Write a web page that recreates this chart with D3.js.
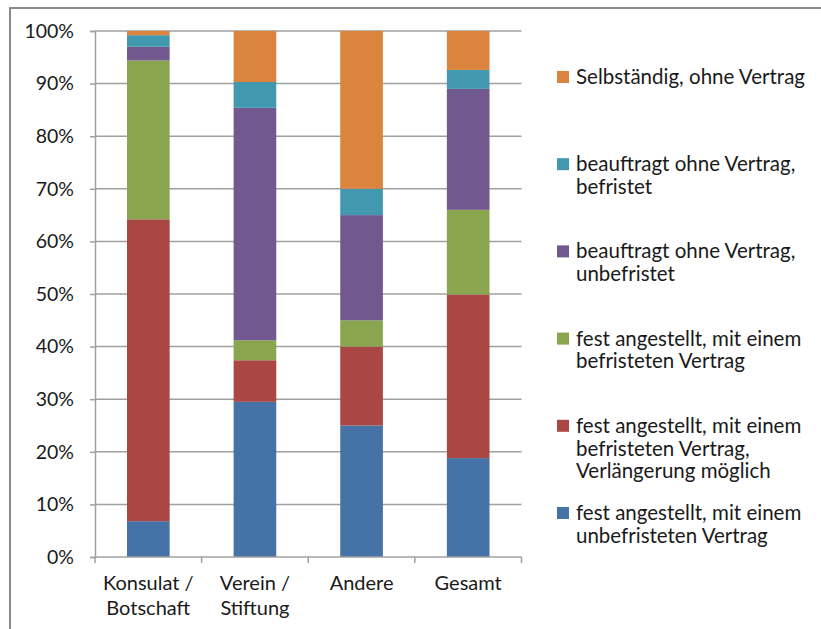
<!DOCTYPE html>
<html><head><meta charset="utf-8">
<script src="https://cdn.jsdelivr.net/npm/d3@7"></script>
<style>
html,body{margin:0;padding:0;background:#fff;}
svg text{font-family:Lato,"Open Sans",sans-serif;fill:#1a1a1a;}
</style></head>
<body>
<svg id="chart" width="821" height="629"></svg>
<script>
const categories = [["Konsulat /","Botschaft"],["Verein /","Stiftung"],["Andere"],["Gesamt"]];
const seriesNames = [
  ["fest angestellt, mit einem","unbefristeten Vertrag"],
  ["fest angestellt, mit einem","befristeten Vertrag,","Verlängerung möglich"],
  ["fest angestellt, mit einem","befristeten Vertrag"],
  ["beauftragt ohne Vertrag,","unbefristet"],
  ["beauftragt ohne Vertrag,","befristet"],
  ["Selbständig, ohne Vertrag"]
];
const unbefristet   = [6.8, 29.5, 25, 18.8];
const befristetVerl = [57.4, 7.9, 15, 31.1];
const befristet     = [30.2, 3.8, 5, 16.1];
const beaufUnbef    = [2.6, 44.2, 20, 23.0];
const beaufBef      = [2.2, 4.9, 5, 3.6];
const selbst        = [0.8, 9.7, 30, 7.4];
const yTicks = [0,10,20,30,40,50,60,70,80,90,100];
const colors = ["#4572A7","#AA4643","#89A54E","#71588F","#4198AF","#DB843D"];

const seriesValues = [unbefristet, befristetVerl, befristet, beaufUnbef, beaufBef, selbst];
const keys = seriesValues.map((_,i)=>"s"+i);
const rows = categories.map((c,ci)=>{
  const r = {cat: c.join(" ")};
  seriesValues.forEach((s,si)=>r["s"+si]=s[ci]);
  return r;
});

const svg = d3.select("#chart");
const L=95, R=521.5, T=31, B=557;

// frame
svg.append("path").attr("d","M10,629 L10,8 L821,8").attr("fill","none")
  .attr("stroke","#8a8a8a").attr("stroke-width",2);

const x = d3.scaleBand().domain(rows.map(d=>d.cat)).range([L,R]).paddingInner(0.6).paddingOuter(0.3);
const y = d3.scaleLinear().domain([0,100]).range([B,T]);

// gridlines
svg.append("g").selectAll("line").data(yTicks.filter(t=>t>0)).join("line")
  .attr("x1",L).attr("x2",R).attr("y1",d=>y(d)).attr("y2",d=>y(d))
  .attr("stroke","#a0a0a0").attr("stroke-width",1.5);

// y axis
const yAxis = d3.axisLeft(y).tickValues(yTicks).tickFormat(d=>d+"%").tickSize(5).tickPadding(16);
const yg = svg.append("g").attr("transform",`translate(${L},0)`).call(yAxis);
yg.select(".domain").attr("stroke","#a0a0a0").attr("stroke-width",1.5);
yg.selectAll(".tick line").attr("stroke","#a0a0a0").attr("stroke-width",1.5);
yg.selectAll(".tick text").attr("font-size",19.5).attr("font-family","Lato").attr("fill","#1a1a1a");

// bars
const stacked = d3.stack().keys(keys)(rows);
svg.append("g").selectAll("g").data(stacked).join("g")
  .attr("fill",(d,i)=>colors[i])
  .selectAll("rect").data(d=>d).join("rect")
  .attr("x",d=>x(d.data.cat)).attr("width",x.bandwidth())
  .attr("y",d=>y(d[1])).attr("height",d=>y(d[0])-y(d[1]));

// x axis
const step = x.step();
const xg = svg.append("g");
xg.append("line").attr("x1",L).attr("x2",R).attr("y1",B).attr("y2",B)
  .attr("stroke","#a0a0a0").attr("stroke-width",1.5);
const bounds = d3.range(categories.length+1).map(i=>L+i*step);
xg.selectAll("line.tk").data(bounds).join("line").attr("class","tk")
  .attr("x1",d=>d).attr("x2",d=>d).attr("y1",B).attr("y2",B+6)
  .attr("stroke","#a0a0a0").attr("stroke-width",1.5);
rows.forEach((r,i)=>{
  const t = xg.append("text").attr("text-anchor","middle")
    .attr("x",x(r.cat)+x.bandwidth()/2).attr("font-size",20);
  categories[i].forEach((ln,li)=>{
    t.append("tspan").attr("x",x(r.cat)+x.bandwidth()/2).attr("y",590+li*25).text(ln);
  });
});

// legend (top to bottom: reverse order)
const legendOrder = d3.range(seriesNames.length).reverse();
const lg = svg.append("g");
legendOrder.forEach((si,k)=>{
  const cy = 77 + k*87.2;
  lg.append("rect").attr("x",557).attr("y",cy-6).attr("width",12).attr("height",12).attr("fill",colors[si]);
  const t = lg.append("text").attr("font-size",20.5);
  seriesNames[si].forEach((ln,li)=>{
    t.append("tspan").attr("x",576).attr("y",cy+7+li*22.7).text(ln);
  });
});
</script>
</body></html>
